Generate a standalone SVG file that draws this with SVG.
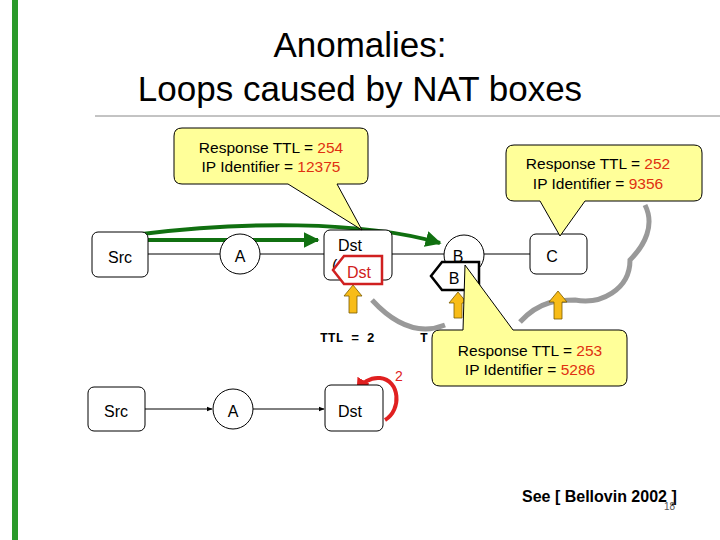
<svg xmlns="http://www.w3.org/2000/svg" width="720" height="540" viewBox="0 0 720 540">
<defs>
<style>
.t{font-family:"Liberation Sans",Arial,sans-serif}
.box{fill:#fff;stroke:#000;stroke-width:1}
.call{fill:#ffff99;stroke:#000;stroke-width:1}
.ln{stroke:#000;stroke-width:1;fill:none}
.red{fill:#e03010}
.ya{fill:#f8bc18;stroke:#7a5a00;stroke-width:0.8}
</style>
<marker id="ah" viewBox="0 0 10 10" refX="9" refY="5" markerWidth="6" markerHeight="6" orient="auto"><path d="M0,1 L10,5 L0,9 z" fill="#000"/></marker>
<marker id="gh" viewBox="0 0 10 10" refX="9" refY="5" markerWidth="4" markerHeight="4" orient="auto"><path d="M0,0 L10,5 L0,10 z" fill="#107010"/></marker>
<marker id="rh" viewBox="0 0 10 10" refX="8" refY="5" markerWidth="3.5" markerHeight="3.5" orient="auto"><path d="M0,0 L10,5 L0,10 z" fill="#e02020"/></marker>
</defs>
<rect width="720" height="540" fill="#fff"/>
<rect x="12" y="0" width="6" height="540" fill="#2a9a2a"/>
<line x1="95" y1="116" x2="720" y2="116" stroke="#888" stroke-width="1"/>
<text class="t" x="360" y="57" font-size="35" text-anchor="middle">Anomalies:</text>
<text class="t" x="360" y="101" font-size="35" text-anchor="middle">Loops caused by NAT boxes</text>

<path d="M372,300 C395,325 420,335 445,325 M520,322 C540,300 560,300 575,300 C600,305 630,290 630,260 C645,245 655,225 645,205" fill="none" stroke="#999" stroke-width="5"/>

<g id="connectors">
<line class="ln" x1="148" y1="254" x2="220" y2="254"/>
<line class="ln" x1="260" y1="254" x2="324" y2="254"/>
<line class="ln" x1="392" y1="254" x2="444" y2="254"/>
<line class="ln" x1="484" y1="254" x2="530" y2="254"/>
<line class="ln" x1="145" y1="409" x2="212" y2="409" marker-end="url(#ah)"/>
<line class="ln" x1="253" y1="409" x2="324" y2="409" marker-end="url(#ah)"/>
<path d="M142,240 L318,240" stroke="#107010" stroke-width="4" fill="none" marker-end="url(#gh)"/>
<path d="M142,234 C240,222 360,220 440,243" stroke="#107010" stroke-width="4" fill="none" marker-end="url(#gh)"/>
<path d="M385,420 C402,410 400,380 380,378 C370,377 362,383 358,390" stroke="#e02020" stroke-width="4" fill="none" marker-end="url(#rh)"/>
</g>

<g id="src1"><rect class="box" x="92" y="232" width="56" height="45" rx="6"/><text class="t" x="120" y="263" font-size="16" text-anchor="middle">Src</text></g>
<g id="a1"><circle class="box" cx="240" cy="254" r="20"/><text class="t" x="240" y="262" font-size="16" text-anchor="middle">A</text></g>
<g id="dst1"><rect class="box" x="324" y="230" width="68" height="50" rx="6"/><text class="t" x="350" y="251" font-size="16" text-anchor="middle">Dst</text><text class="t" x="332" y="271" font-size="16">(</text></g>
<g id="b1"><circle class="box" cx="464" cy="255" r="20"/><text class="t" x="458" y="262" font-size="16" text-anchor="middle">B</text></g>
<g id="c1"><rect class="box" x="530" y="234" width="57" height="40" rx="6"/><text class="t" x="552" y="262" font-size="16" text-anchor="middle">C</text></g>

<g id="dsttag"><path d="M344,256 L382,256 L382,284 L344,284 L333,270 z" fill="#fff" stroke="#d02020" stroke-width="2.5"/><text class="t" x="359" y="278" font-size="16" text-anchor="middle" fill="#d02020">Dst</text></g>
<g id="btag"><path d="M442,262 L479,262 L479,290 L442,290 L431,276 z" fill="#fff" stroke="#000" stroke-width="2.5"/><text class="t" x="454" y="284" font-size="16" text-anchor="middle">B</text></g>

<g id="arrows-up">
<path class="ya" d="M353,285 L362,296 L357,296 L357,313 L349,313 L349,296 L344,296 z"/>
<path class="ya" d="M458,292 L467,303 L462,303 L462,318 L454,318 L454,303 L449,303 z"/>
<path class="ya" d="M558,291 L567,302 L562,302 L562,319 L554,319 L554,302 L549,302 z"/>
</g>

<text x="320" y="342" font-family="Liberation Mono,monospace" font-size="13" font-weight="bold">TTL = 2</text>
<text x="420" y="342" font-family="Liberation Mono,monospace" font-size="13" font-weight="bold">T</text>

<g id="call1"><path class="call" d="M182,128 H360 Q368,128 368,136 V176 Q368,184 360,184 H337 L362,230 L288,184 H182 Q174,184 174,176 V136 Q174,128 182,128 z"/>
<text class="t" x="271" y="153" font-size="15.5" text-anchor="middle">Response TTL = <tspan class="red">254</tspan></text>
<text class="t" x="271" y="172" font-size="15.5" text-anchor="middle">IP Identifier = <tspan class="red">12375</tspan></text></g>
<g id="call2"><path class="call" d="M514,145 H694 Q702,145 702,153 V193 Q702,201 694,201 H585 L560,236 L540,201 H514 Q506,201 506,193 V153 Q506,145 514,145 z"/>
<text class="t" x="598" y="169" font-size="15.5" text-anchor="middle">Response TTL = <tspan class="red">252</tspan></text>
<text class="t" x="598" y="189" font-size="15.5" text-anchor="middle">IP Identifier = <tspan class="red">9356</tspan></text></g>
<g id="call3"><path class="call" d="M440,330 H463 L465,265 L513,330 H619 Q627,330 627,338 V378 Q627,386 619,386 H440 Q432,386 432,378 V338 Q432,330 440,330 z"/>
<text class="t" x="530" y="356" font-size="15.5" text-anchor="middle">Response TTL = <tspan class="red">253</tspan></text>
<text class="t" x="530" y="375" font-size="15.5" text-anchor="middle">IP Identifier = <tspan class="red">5286</tspan></text></g>

<g id="src2"><rect class="box" x="88" y="387" width="57" height="44" rx="6"/><text class="t" x="116" y="417" font-size="16" text-anchor="middle">Src</text></g>
<g id="a2"><circle class="box" cx="233" cy="409" r="20"/><text class="t" x="233" y="417" font-size="16" text-anchor="middle">A</text></g>
<g id="dst2"><rect class="box" x="325" y="385" width="58" height="46" rx="6"/><text class="t" x="350" y="417" font-size="16" text-anchor="middle">Dst</text></g>
<text class="t" x="395" y="381" font-size="14" fill="#e02020">2</text>

<text class="t" x="522" y="502" font-size="16" font-weight="bold">See [ Bellovin 2002 ]</text>
<text class="t" x="664" y="510" font-size="10" fill="#555">18</text>
</svg>
